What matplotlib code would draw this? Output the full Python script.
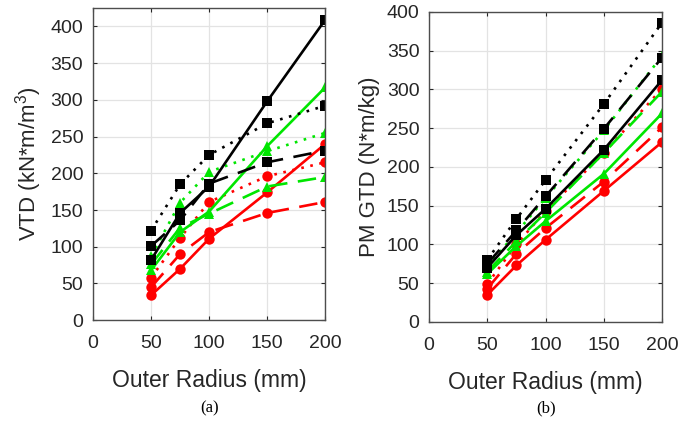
import matplotlib
matplotlib.use("Agg")
import matplotlib.pyplot as plt

plt.rcParams['font.family'] = ['Liberation Sans', 'DejaVu Sans']
plt.rcParams['mathtext.fontset'] = 'custom'
plt.rcParams['mathtext.rm'] = 'Liberation Sans'
plt.rcParams['mathtext.it'] = 'Liberation Sans'

radius = [50, 75, 100, 150, 200]
x_ticks = [0, 50, 100, 150, 200]
y_ticks = [0, 50, 100, 150, 200, 250, 300, 350, 400]

# (a) VTD
vtd_black_solid = [82, 146, 182, 298, 409]
vtd_black_dashed = [101, 136, 186, 215, 231]
vtd_black_dotted = [122, 185, 225, 268, 292]
vtd_green_solid = [68, 120, 148, 237, 317]
vtd_green_dashed = [76, 126, 145, 182, 195]
vtd_green_dotted = [87, 160, 202, 230, 255]
vtd_red_solid = [34, 70, 111, 174, 240]
vtd_red_dashed = [45, 90, 120, 146, 161]
vtd_red_dotted = [58, 112, 161, 196, 215]

# (b) PM GTD
gtd_black_solid = [70, 112, 146, 222, 312]
gtd_black_dashed = [75, 118, 162, 249, 341]
gtd_black_dotted = [80, 133, 183, 281, 386]
gtd_green_solid = [62, 98, 130, 191, 269]
gtd_green_dashed = [65, 104, 141, 218, 297]
gtd_green_dotted = [72, 115, 160, 247, 343]
gtd_red_solid = [35, 73, 106, 169, 232]
gtd_red_dashed = [43, 88, 121, 181, 251]
gtd_red_dotted = [49, 100, 143, 218, 301]

BLACK = '#000000'
GREEN = '#00e600'
RED = '#ff0000'
TXT = '#262626'

fig = plt.figure(figsize=(6.79, 4.23), dpi=100)
ax1 = fig.add_axes([0.137, 0.243, 0.342, 0.738])
ax2 = fig.add_axes([0.632, 0.239, 0.343, 0.733])

def draw(ax, series):
    for ys, color, ls, mk in series:
        ax.plot(radius, ys, color=color, linestyle=ls, marker=mk,
                markersize=7.5, linewidth=1.9, markeredgewidth=0)

styles_dashed = (0, (7, 4))
styles_dotted = (0, (1, 2.5))

draw(ax1, [
    (vtd_red_solid, RED, '-', 'o'),
    (vtd_red_dashed, RED, styles_dashed, 'o'),
    (vtd_red_dotted, RED, styles_dotted, 'o'),
    (vtd_green_solid, GREEN, '-', '^'),
    (vtd_green_dashed, GREEN, styles_dashed, '^'),
    (vtd_green_dotted, GREEN, styles_dotted, '^'),
    (vtd_black_solid, BLACK, '-', 's'),
    (vtd_black_dashed, BLACK, styles_dashed, 's'),
    (vtd_black_dotted, BLACK, styles_dotted, 's'),
])
draw(ax2, [
    (gtd_red_solid, RED, '-', 'o'),
    (gtd_red_dashed, RED, styles_dashed, 'o'),
    (gtd_red_dotted, RED, styles_dotted, 'o'),
    (gtd_green_solid, GREEN, '-', '^'),
    (gtd_green_dashed, GREEN, styles_dashed, '^'),
    (gtd_green_dotted, GREEN, styles_dotted, '^'),
    (gtd_black_solid, BLACK, '-', 's'),
    (gtd_black_dashed, BLACK, styles_dashed, 's'),
    (gtd_black_dotted, BLACK, styles_dotted, 's'),
])

for ax, ymax in ((ax1, 425), (ax2, 400)):
    ax.set_xlim(0, 200)
    ax.set_ylim(0, ymax)
    ax.set_xticks(x_ticks)
    ax.set_yticks(y_ticks)
    ax.grid(True, color='#e3e3e3', linewidth=0.9)
    ax.set_axisbelow(True)
    ax.tick_params(direction='in', length=3, width=0.8, colors=TXT,
                   labelsize=14, top=True, right=True)
    ax.tick_params(axis='x', pad=11)
    ax.tick_params(axis='y', pad=7)
    for sp in ax.spines.values():
        sp.set_color('#4d4d4d')
        sp.set_linewidth(1.0)
    for lbl in ax.get_xticklabels() + ax.get_yticklabels():
        lbl.set_color(TXT)
    ax.set_xlabel('Outer Radius (mm)', fontsize=16.5, color=TXT, labelpad=12)

ax1.set_ylabel('VTD (kN*m/m$^3$)', fontsize=16, color=TXT, labelpad=5)
ax2.set_ylabel('PM GTD (N*m/kg)', fontsize=16, color=TXT, labelpad=5)

fig.text(0.137 + 0.342 / 2, 1 - 408 / 423, '(a)', ha='center', va='center',
         fontsize=12, family='Liberation Serif')
fig.text(0.632 + 0.343 / 2, 1 - 408 / 423, '(b)', ha='center', va='center',
         fontsize=12, family='Liberation Serif')

fig.savefig('out.png', dpi=100)
